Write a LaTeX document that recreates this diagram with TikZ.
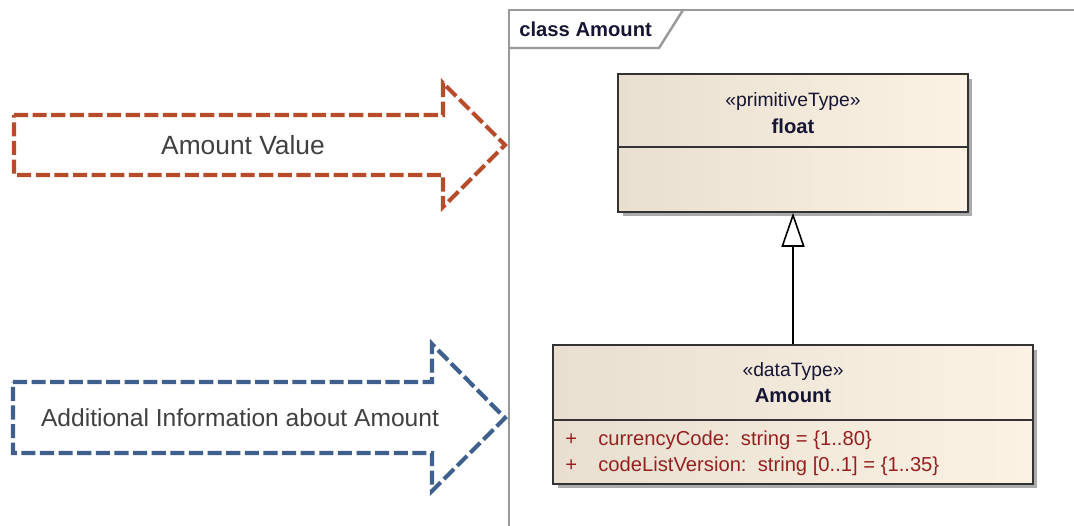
\documentclass[tikz,border=0pt]{standalone}
\usepackage{fontspec}
\setmainfont{Liberation Sans}
\usetikzlibrary{arrows.meta, positioning, shadows, calc}
\definecolor{noteRed}{RGB}{183,76,42}
\definecolor{noteBlue}{RGB}{63,96,141}
\definecolor{umlLeft}{RGB}{232,223,208}
\definecolor{umlRight}{RGB}{252,242,228}
\definecolor{attrRed}{RGB}{150,32,32}
\definecolor{stereoInk}{RGB}{22,22,52}
\tikzset{
  classbox/.style={
    rectangle, draw=black!80, line width=0.9pt,
    left color=umlLeft, right color=umlRight,
    drop shadow={shadow xshift=0.09cm, shadow yshift=-0.09cm,
                 fill=black!55, opacity=0.6}
  },
  sepline/.style={draw=black!80, line width=0.9pt},
  stereotext/.style={font=\fontsize{11}{13}\selectfont, text=stereoInk},
  nametext/.style={font=\fontsize{11.5}{13}\selectfont\bfseries, text=stereoInk},
  attrtext/.style={font=\fontsize{11.5}{13}\selectfont, text=attrRed, anchor=west,
                   inner sep=0pt},
  notearrow/.style={draw=#1, line width=2.4pt, dash pattern=on 8pt off 2.6pt,
                    miter limit=10},
  notetext/.style={text=black!75},
  framegray/.style={draw=black!40, line width=1.4pt},
  inherit/.style={-{Triangle[fill=white, length=0.68cm, width=0.46cm]},
                  line width=0.9pt, draw=black},
}

\begin{document}
\begin{tikzpicture}[x=0.02cm, y=-0.02cm]
      \useasboundingbox (0,0) rectangle (1074,526);
      % diagram frame
      \draw[framegray] (509,530) -- (509,10) -- (1080,10);
      \draw[framegray] (509,48) -- (659,48) -- (683,10);
      \node[font=\fontsize{11.5}{13}\selectfont\bfseries, text=stereoInk, anchor=west,
            inner sep=0pt](frametitle) at (519,29) {class Amount};
      % note arrows
      \draw[notearrow=noteRed] (14,115) -- (443,115) -- (443,83) -- (505,145)
            -- (443,207) -- (443,175) -- (14,175) -- cycle;
      \node[notetext, font=\fontsize{15}{18}\selectfont](valuenote) at (243,145) {Amount Value};
      \draw[notearrow=noteBlue] (13,382) -- (432,382) -- (432,344) -- (505,418)
            -- (432,491) -- (432,453) -- (13,453) -- cycle;
      \node[notetext, font=\fontsize{14}{17}\selectfont](infonote) at (240,418)
            {Additional Information about Amount};
      % classes
      \node[classbox, minimum width=7cm, minimum height=2.76cm](float) at (793,143) {};
      \draw[sepline] (618,147) -- (968,147);
      \node[stereotext](floatstereo) at (793,102) {«primitiveType»};
      \node[nametext](floatname) at (793,126) {float};
      \node[classbox, minimum width=9.6cm, minimum height=2.78cm](amount) at (793,414.5) {};
      \draw[sepline] (553,420) -- (1033,420);
      \node[stereotext](amountstereo) at (793,372) {«dataType»};
      \node[nametext](amountname) at (793,396) {Amount};
      \node[attrtext](plusa) at (565,440) {+};
      \node[attrtext](attra) at (598,440) {currencyCode:\ \ string = \{1..80\}};
      \node[attrtext](plusb) at (565,466) {+};
      \node[attrtext](attrb) at (598,466) {codeListVersion:\ \ string [0..1] = \{1..35\}};
      \draw[inherit] (amount.north) -- (float.south);
    \end{tikzpicture}
\end{document}
